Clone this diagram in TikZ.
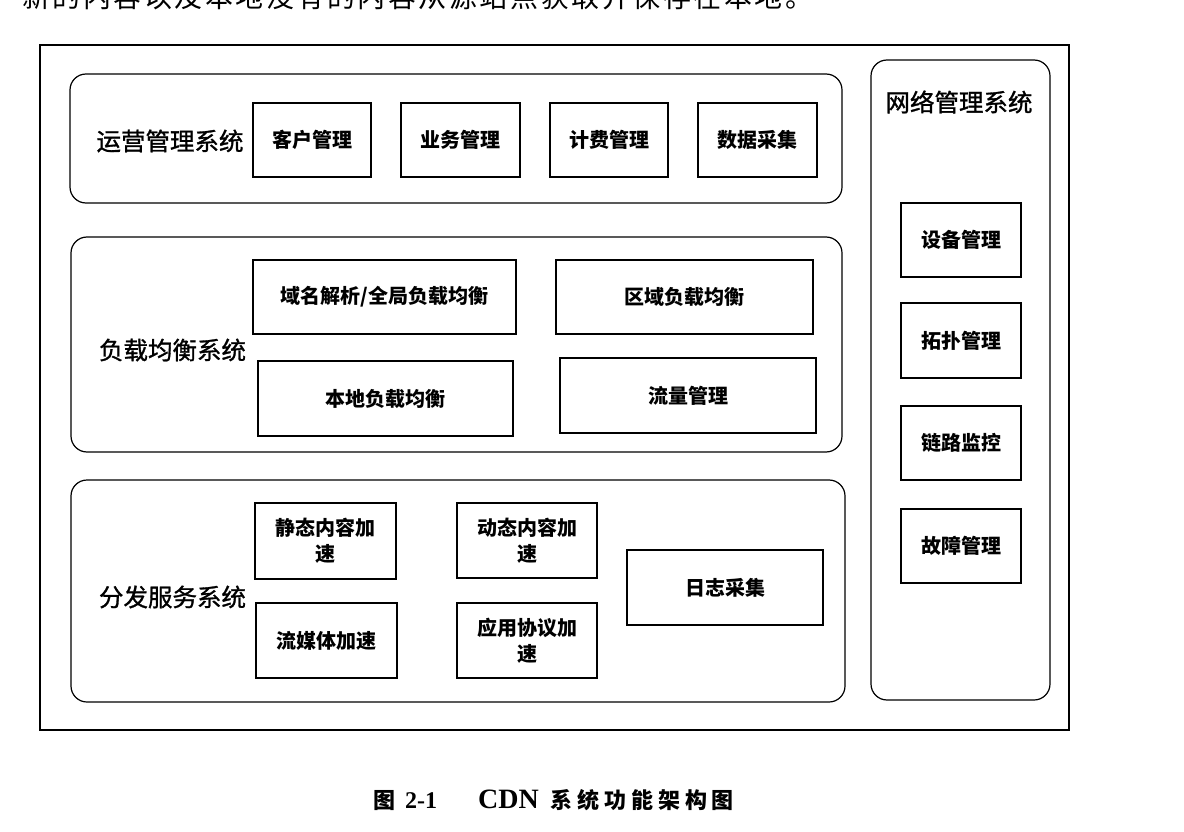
\documentclass[tikz,border=0pt]{standalone}
\usepackage{fontspec}
\setmainfont{Noto Sans CJK SC}
\newfontfamily\mycjk{Noto Sans CJK SC}
\newfontfamily\mycjklab[FakeBold=1.2]{Noto Sans CJK SC}
\newfontfamily\mycjkcap[LetterSpace=22]{Noto Sans CJK SC}
\newfontfamily\mylatcap{Liberation Serif}
\newfontfamily\mycjktop[LetterSpace=9]{Noto Sans CJK SC}
\newcommand\myitemfont{\mycjk\bfseries\fontsize{20}{26}\selectfont}
\newcommand\mylabelfont{\mycjklab\fontsize{24.5}{28}\selectfont}
\tikzset{
  outerframe/.style={draw, line width=1.8pt, inner sep=0pt},
  container/.style={draw, line width=1.2pt, rounded corners=16pt, inner sep=0pt},
  item/.style={draw, line width=1.2pt, inner sep=0pt, align=center, font=\myitemfont},
  syslabel/.style={inner sep=0pt, font=\mylabelfont},
  sz/.style n args={2}{minimum width=#1pt, minimum height=#2pt},
}
\begin{document}
\begin{tikzpicture}[x=1pt,y=-1pt]
\useasboundingbox (0,0) rectangle (1184,832);
% line of text cut off at the top edge
\begin{scope}
\clip (0,0) rectangle (1184,832);
\node[anchor=base west, inner sep=0pt, font=\mycjktop\fontsize{28}{30}\selectfont] (toptext) at (22,8) {新的内容以及本地没有的内容从源站点获取并保存在本地。};
\end{scope}
% outer frame
\node[outerframe, sz={1029}{685}] (frame) at (554.5,387.5) {};
% containers
\node[container, sz={772}{129}] (ops) at (456,138.5) {};
\node[container, sz={771}{215}] (lb) at (456.5,344.5) {};
\node[container, sz={774}{222}] (dist) at (458,591) {};
\node[container, sz={179}{640}] (net) at (960.5,380) {};
% system labels
\node[syslabel] (opsl) at (170,141) {运营管理系统};
\node[syslabel] (lbl) at (172.5,350) {负载均衡系统};
\node[syslabel] (distl) at (172.5,597) {分发服务系统};
\node[syslabel] (netl) at (959,102) {网络管理系统};
% operations items
\node[item, sz={118}{74}] (kh) at (312,140) {客户管理};
\node[item, sz={119}{74}] (yw) at (460.5,140) {业务管理};
\node[item, sz={118}{74}] (jf) at (609,140) {计费管理};
\node[item, sz={119}{74}] (sj) at (757.5,140) {数据采集};
% load balancing items
\node[item, sz={263}{74}] (ym) at (384.5,297) {域名解析/全局负载均衡};
\node[item, sz={257}{74}] (qy) at (684.5,297) {区域负载均衡};
\node[item, sz={255}{75}] (bd) at (385.5,398.5) {本地负载均衡};
\node[item, sz={256}{75}] (ll) at (688,395.5) {流量管理};
% distribution items
\node[item, sz={141}{76}] (jt) at (325.5,541) {静态内容加\\速};
\node[item, sz={141}{75}] (lm) at (326.5,640.5) {流媒体加速};
\node[item, sz={140}{75}] (dt) at (527,540.5) {动态内容加\\速};
\node[item, sz={140}{75}] (yy) at (527,640.5) {应用协议加\\速};
\node[item, sz={196}{75}] (rz) at (725,587.5) {日志采集};
% network items
\node[item, sz={120}{74}] (sb) at (961,240) {设备管理};
\node[item, sz={120}{75}] (tp) at (961,340.5) {拓扑管理};
\node[item, sz={120}{74}] (lj) at (961,443) {链路监控};
\node[item, sz={120}{74}] (gz) at (961,546) {故障管理};
% caption
\node[inner sep=0pt, anchor=base west] (cap) at (373,808) {{\mycjk\bfseries\fontsize{22}{26}\selectfont 图}\hspace{10pt}{\mylatcap\bfseries\fontsize{24}{26}\selectfont 2-1}\hspace{41pt}{\mylatcap\bfseries\fontsize{28}{30}\selectfont CDN}\hspace{12pt}{\mycjkcap\bfseries\fontsize{22}{26}\selectfont 系统功能架构图}};
\end{tikzpicture}
\end{document}
